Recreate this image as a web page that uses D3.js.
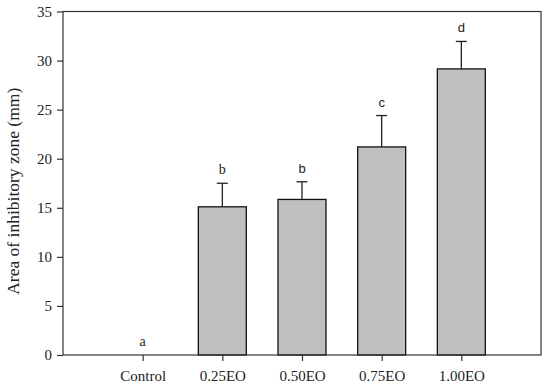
<!DOCTYPE html>
<html>
<head>
    <script src="https://d3js.org/d3.v7.min.js"></script>
    <style>
        body { margin: 0; background: #fff; }
    </style>
</head>
<body>
    <div id="chart"></div>
    <script>
        // values
        var groups = ["Control", "0.25EO", "0.50EO", "0.75EO", "1.00EO"];
        var means = [0, 15.1, 15.85, 21.2, 29.15];
        var errors = [0, 2.4, 1.8, 3.2, 2.8];
        var letters = ["a", "b", "b", "c", "d"];
        var yTicks = [0, 5, 10, 15, 20, 25, 30, 35];

        var margin = { top: 11.5, right: 9, bottom: 33, left: 63 };
        var width = 550 - margin.left - margin.right;
        var height = 388 - margin.top - margin.bottom;

        var svg = d3.select("#chart")
            .append("svg")
            .attr("width", 550)
            .attr("height", 388)
            .append("g")
            .attr("transform", "translate(" + margin.left + "," + margin.top + ")");

        var x = d3.scalePoint()
            .domain(groups)
            .range([0, width])
            .padding(1);

        var y = d3.scaleLinear()
            .domain([0, 35])
            .range([height, 0]);

        var barWidth = 48;
        var serif = "'Liberation Serif', 'DejaVu Serif', serif";
        var sans = "'Liberation Sans', Arial, sans-serif";

        var data = groups.map(function(g, i) {
            return { group: g, mean: means[i], err: errors[i], letter: letters[i] };
        });

        // bars (control is zero so nothing shows)
        svg.selectAll(".bar")
            .data(data.filter(function(d) { return d.mean > 0; }))
            .enter().append("rect")
            .attr("class", "bar")
            .attr("x", function(d) { return x(d.group) - barWidth / 2; })
            .attr("width", barWidth)
            .attr("y", function(d) { return y(d.mean); })
            .attr("height", function(d) { return height - y(d.mean); })
            .attr("fill", "#c0c0c0")
            .attr("stroke", "#111")
            .attr("stroke-width", 1.3);

        // upper error bars
        var eb = svg.selectAll(".err")
            .data(data.filter(function(d) { return d.err > 0; }))
            .enter().append("g")
            .attr("class", "err")
            .attr("stroke", "#222")
            .attr("stroke-width", 1.3);
        eb.append("line")
            .attr("x1", function(d) { return x(d.group); })
            .attr("x2", function(d) { return x(d.group); })
            .attr("y1", function(d) { return y(d.mean); })
            .attr("y2", function(d) { return y(d.mean + d.err); });
        eb.append("line")
            .attr("x1", function(d) { return x(d.group) - 5.5; })
            .attr("x2", function(d) { return x(d.group) + 5.5; })
            .attr("y1", function(d) { return y(d.mean + d.err); })
            .attr("y2", function(d) { return y(d.mean + d.err); });

        // significance letters
        svg.selectAll(".letter")
            .data(data)
            .enter().append("text")
            .attr("class", "letter")
            .attr("x", function(d) { return x(d.group); })
            .attr("y", function(d) { return y(d.mean + d.err) - 9; })
            .attr("text-anchor", "middle")
            .style("font-family", function(d, i) { return (i < 2) ? serif : sans; })
            .style("font-size", function(d, i) { return (i < 2) ? "14px" : "13px"; })
            .attr("fill", "#222")
            .text(function(d) { return d.letter; });

        // frame
        svg.append("rect")
            .attr("width", width)
            .attr("height", height)
            .attr("fill", "none")
            .attr("stroke", "#333")
            .attr("stroke-width", 1.2);

        var xAxis = svg.append("g")
            .attr("transform", "translate(0," + height + ")")
            .call(d3.axisBottom(x).tickSize(6).tickPadding(9));

        var yAxis = svg.append("g")
            .call(d3.axisLeft(y).tickValues(yTicks).tickSize(6).tickPadding(5));

        [xAxis, yAxis].forEach(function(ax) {
            ax.select(".domain").remove();
            ax.selectAll("line").attr("stroke", "#333").attr("stroke-width", 1.2);
            ax.selectAll("text")
                .attr("fill", "#222")
                .style("font-family", serif)
                .style("font-size", "15px");
        });

        svg.append("text")
            .attr("transform", "translate(" + (-44) + "," + (height / 2 + 8) + ") rotate(-90)")
            .attr("text-anchor", "middle")
            .style("font-family", serif)
            .style("font-size", "17.5px")
            .attr("fill", "#222")
            .text("Area of inhibitory zone (mm)");
    </script>
</body>
</html>
